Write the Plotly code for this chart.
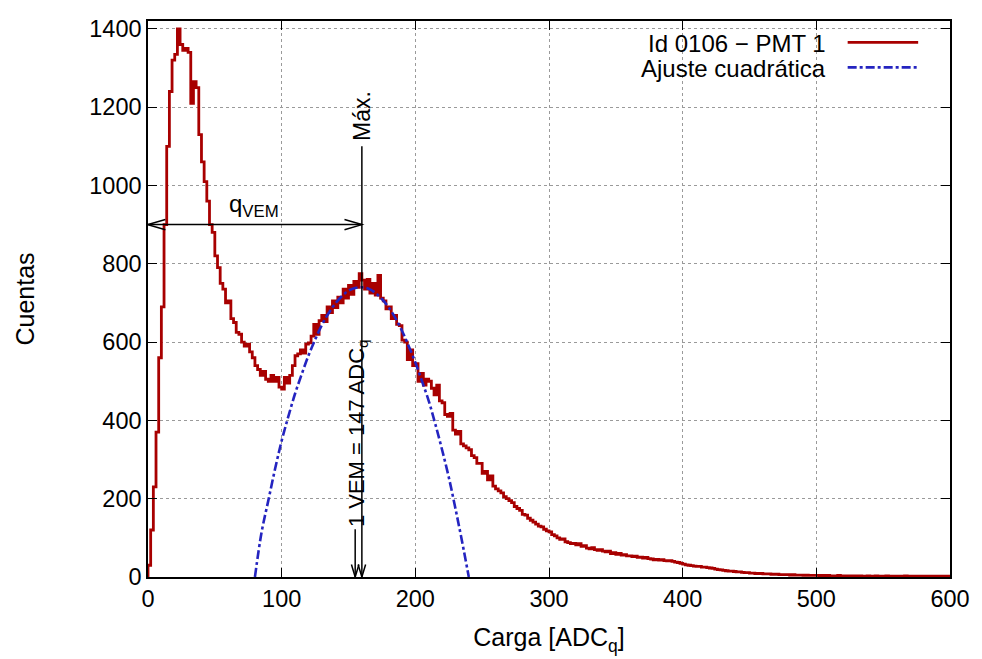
import plotly.graph_objects as go

# ---------------- data ----------------
BIN_WIDTH = 2
# histogram counts per 2-ADC bin, from 0 to 600
counts = [
    30, 120, 230, 370, 560, 690, 900, 1100, 1240, 1320,
    1335, 1400, 1360, 1345, 1350, 1340, 1210, 1265, 1250, 1130,
    1060, 1010, 960, 900, 880, 820, 790, 750, 735, 700,
    705, 660, 650, 625, 620, 600, 590, 595, 575, 560,
    540, 530, 515, 525, 505, 500, 515, 500, 510, 485,
    480, 510, 495, 515, 540, 565, 570, 580, 572, 595,
    598, 615, 645, 620, 655, 668, 652, 690, 675, 705,
    688, 715, 700, 735, 712, 745, 722, 755, 740, 775,
    758, 735, 760, 725, 750, 720, 770, 712, 705, 685,
    690, 660, 668, 645, 642, 605, 600, 555, 580, 540,
    545, 500, 520, 490, 505, 500, 482, 465, 490, 450,
    445, 415, 410, 418, 375, 365, 372, 340, 335, 330,
    325, 310, 305, 290, 290, 265, 270, 248, 258, 232,
    225, 220, 215, 205, 200, 195, 190, 180, 175, 170,
    160, 158, 150, 145, 140, 135, 130, 128, 122, 118,
    115, 108, 105, 100, 96, 97, 90, 88, 85, 86,
    82, 85, 78, 80, 74, 72, 75, 70, 68, 70,
    66, 64, 66, 60, 62, 58, 60, 56, 57, 54,
    54, 52, 53, 50, 51, 48, 50, 47, 46, 44,
    45, 43, 44, 42, 41, 42, 40, 38, 37, 35,
    33, 31, 30, 29, 28, 27, 27, 25, 25, 24,
    23, 22, 20, 19, 18, 17, 16, 15, 15, 14,
    13, 13, 12, 11, 11, 10, 10, 9, 9, 9,
    8, 8, 8, 7, 7, 7, 6, 6, 6, 6,
    5, 6, 5, 5, 5, 4, 5, 4, 4, 4,
    4, 3, 4, 3, 4, 3, 3, 3, 4, 3,
    3, 3, 2, 3, 3, 2, 3, 2, 2, 3,
    2, 2, 3, 2, 2, 2, 3, 2, 2, 2,
    2, 2, 2, 3, 2, 2, 2, 1, 2, 2,
    2, 1, 2, 2, 2, 1, 2, 2, 1, 2,
]

fit_x = [80, 85, 90, 95, 100, 105, 110, 115, 120, 125, 130, 135, 140, 145, 150,
         155, 160, 165, 170, 175, 180, 185, 190, 195, 200, 205, 210, 215, 220,
         225, 230, 235, 240]
fit_y = [0, 115, 195, 275, 348, 410, 468, 518, 565, 606, 643, 673, 698, 717, 731,
         738, 740, 736, 726, 710, 689, 662, 629, 590, 548, 500, 450, 390, 325,
         255, 175, 90, 0]

x_ticks = [0, 100, 200, 300, 400, 500, 600]
y_ticks = [0, 200, 400, 600, 800, 1000, 1200, 1400]

series_names = ["Id 0106 − PMT 1", "Ajuste cuadrática"]

# annotation values
Q_VEM_Y = 900
MAX_X = 160
MAX_TOP = 1100
VEM_X = 155
VEM_ARROW_TOP = 122

# ---------------- styles ----------------
RED = "#a80000"
BLUE = "#2424c0"
FONT = "Liberation Sans, Arial, sans-serif"

edges = [i * BIN_WIDTH for i in range(len(counts) + 1)]
step_x = [0] + edges
step_y = [0] + counts + [counts[-1]]

fig = go.Figure()
fig.add_trace(go.Scatter(x=step_x, y=step_y, mode="lines", line_shape="hv",
                         line=dict(color=RED, width=2.8), name=series_names[0],
                         showlegend=False))
fig.add_trace(go.Scatter(x=fit_x, y=fit_y, mode="lines", line_shape="spline",
                         line=dict(color=BLUE, width=2.6, dash="dashdot"),
                         name=series_names[1], showlegend=False))

shapes = []
ann = []
blk = dict(color="black", width=1.5)

# horizontal double arrow (q_VEM)
shapes.append(dict(type="line", xref="x", yref="y", x0=0, x1=MAX_X, y0=Q_VEM_Y, y1=Q_VEM_Y, line=blk))
shapes.append(dict(type="path", xref="x", yref="y",
                   path=f"M 13,{Q_VEM_Y+13} L 0,{Q_VEM_Y} L 13,{Q_VEM_Y-13}", line=blk))
shapes.append(dict(type="path", xref="x", yref="y",
                   path=f"M {MAX_X-13},{Q_VEM_Y+13} L {MAX_X},{Q_VEM_Y} L {MAX_X-13},{Q_VEM_Y-13}", line=blk))
# vertical Max line with arrow at bottom
shapes.append(dict(type="line", xref="x", yref="y", x0=MAX_X, x1=MAX_X, y0=0, y1=MAX_TOP, line=blk))
shapes.append(dict(type="path", xref="x", yref="y",
                   path=f"M {MAX_X-2.8},32 L {MAX_X},0 L {MAX_X+2.8},32", line=blk))
# 1 VEM arrow
shapes.append(dict(type="line", xref="x", yref="y", x0=VEM_X, x1=VEM_X, y0=0, y1=VEM_ARROW_TOP, line=blk))
shapes.append(dict(type="path", xref="x", yref="y",
                   path=f"M {VEM_X-2.8},32 L {VEM_X},0 L {VEM_X+2.8},32", line=blk))

ann.append(dict(x=79, y=Q_VEM_Y + 4, xref="x", yref="y", text="q<sub>VEM</sub>",
                showarrow=False, xanchor="center", yanchor="bottom",
                font=dict(size=24, color="black", family=FONT)))
ann.append(dict(x=MAX_X, y=MAX_TOP + 8, xref="x", yref="y", text="Máx.", textangle=-90,
                showarrow=False, xanchor="center", yanchor="bottom",
                font=dict(size=23, color="black", family=FONT)))
ann.append(dict(x=VEM_X + 2, y=VEM_ARROW_TOP, xref="x", yref="y",
                text="1 VEM = 147 ADC<sub>q</sub>", textangle=-90,
                showarrow=False, xanchor="center", yanchor="bottom",
                font=dict(size=22, color="black", family=FONT)))

# legend (text on the left, sample on the right, as in the reference)
leg_y = [0.9596, 0.9146]
leg_colors = [RED, BLUE]
leg_dash = ["solid", "dashdot"]
for name, yy, c, d in zip(series_names, leg_y, leg_colors, leg_dash):
    ann.append(dict(x=0.8476, y=yy, xref="paper", yref="paper", text=name,
                    showarrow=False, xanchor="right", yanchor="middle",
                    font=dict(size=24, color="black", family=FONT)))
    shapes.append(dict(type="line", xref="paper", yref="paper", x0=0.8724, x1=0.9603,
                       y0=yy + 0.002, y1=yy + 0.002, line=dict(color=c, width=2.6, dash=d)))

axis_common = dict(showline=True, linecolor="black", linewidth=1.5, mirror="allticks",
                   ticks="inside", ticklen=9, tickwidth=1.3, tickcolor="black",
                   showgrid=True, gridcolor="#9a9a9a", gridwidth=1, griddash="dot",
                   zeroline=False, tickfont=dict(size=23.5, color="black", family=FONT))

fig.update_layout(
    width=982, height=659,
    margin=dict(l=148, r=27, t=21, b=81),
    paper_bgcolor="white", plot_bgcolor="white",
    xaxis=dict(range=[0, 600], tickvals=x_ticks, ticktext=[str(v) for v in x_ticks],
               title=dict(text="Carga [ADC<sub>q</sub>]", standoff=18,
                          font=dict(size=25, color="black", family=FONT)),
               **axis_common),
    yaxis=dict(range=[0, 1420], tickvals=y_ticks, ticktext=[str(v) for v in y_ticks],
               title=dict(text="Cuentas", standoff=48,
                          font=dict(size=25, color="black", family=FONT)),
               **axis_common),
    shapes=shapes, annotations=ann, showlegend=False,
)

fig.write_html("out.html")
